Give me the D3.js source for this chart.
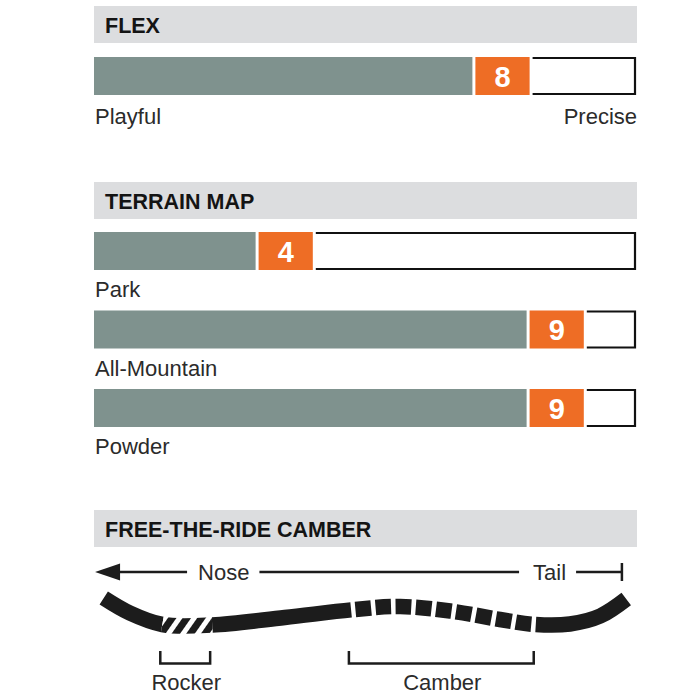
<head>
<meta charset="utf-8">
<style>
body { margin: 0; background: #fff; }
svg { display: block; font-family: "Liberation Sans", Arial, sans-serif; }
</style>
</head>
<body>
<div id="chart"></div>
<script src="https://cdn.jsdelivr.net/npm/d3@7"></script>
<script>
// rating data
var maxRating = 10;
var sectionTitles = ["FLEX", "TERRAIN MAP", "FREE-THE-RIDE CAMBER"];
var flexValue = 8;
var flexEnds = ["Playful", "Precise"];
var terrainNames = ["Park", "All-Mountain", "Powder"];
var terrainValues = [4, 9, 9];

// camber profile: position along board (0-100) and rise of the centre line
var boardPos  = [1.8, 6.6, 12.6, 21.8, 35.2, 48.2, 56.5, 65.7, 74.9, 81.4, 87.8, 93.4, 98.2];
var boardRise = [29, 14, 2.5, 2, 9.5, 17.5, 20.5, 16, 7.5, 2.5, 3, 11, 28];
var zoneNames = ["Rocker", "Camber"];
var zoneStart = [12.6, 47.4];
var zoneEnd   = [21.8, 81.5];
var camberDashes = 9;
var directionNames = ["Nose", "Tail"];
var directionPos = [19.2, 87.1];   // nose label start, tail label end
var arrowEnds = [0.2, 97.4];

(function() {
  "use strict";

  var W = 700, H = 700,
    left = 94, right = 637,
    barH = 38, headH = 37,
    fs = 22,
    grey = "#7f928e", orange = "#ee6d25", ink = "#1c1c1c", textCol = "#2b2b2b";

  var svg = d3.select("#chart").append("svg")
    .attr("width", W)
    .attr("height", H);

  var x = d3.scaleLinear().domain([0, maxRating]).range([left, 636]);

  function header(title, top) {
    svg.append("rect")
      .attr("x", left).attr("y", top)
      .attr("width", right - left).attr("height", headH)
      .attr("fill", "#dcdddf");
    svg.append("text")
      .attr("x", left + 11).attr("y", top + 26.5)
      .attr("font-size", 21.5).attr("font-weight", "bold")
      .attr("fill", "#141414")
      .text(title);
  }

  function ratingBar(value, top) {
    var g = svg.append("g");
    g.append("rect")
      .attr("x", x(0)).attr("y", top)
      .attr("width", x(value - 1) - 1 - x(0)).attr("height", barH)
      .attr("fill", grey);
    g.append("rect")
      .attr("x", x(value - 1) + 2).attr("y", top)
      .attr("width", x(value) - x(value - 1)).attr("height", barH)
      .attr("fill", orange);
    g.append("text")
      .attr("x", (x(value - 1) + x(value)) / 2 + 2).attr("y", top + 29.5)
      .attr("text-anchor", "middle")
      .attr("font-size", 29).attr("font-weight", "bold")
      .attr("fill", "#fff")
      .text(value);
    // open-left outline box for the rest of the scale
    var x0 = x(value) + 5, x1 = x(maxRating) - 1;
    g.append("path")
      .attr("d", "M" + x0 + "," + (top + 1) + "H" + x1 + "V" + (top + barH - 1) + "H" + x0)
      .attr("fill", "none")
      .attr("stroke", "#111")
      .attr("stroke-width", 2.2);
  }

  function label(txt, xx, yy, anchor) {
    return svg.append("text")
      .attr("x", xx).attr("y", yy)
      .attr("text-anchor", anchor || "start")
      .attr("font-size", fs)
      .attr("fill", textCol)
      .text(txt);
  }

  // FLEX
  header(sectionTitles[0], 6);
  ratingBar(flexValue, 57);
  label(flexEnds[0], left + 1, 124);
  label(flexEnds[1], right, 124, "end");

  // TERRAIN MAP
  header(sectionTitles[1], 182);
  var rowY = d3.scaleLinear().domain([0, 1]).range([232, 310.5]);
  terrainValues.forEach(function(v, i) {
    ratingBar(v, rowY(i));
    label(terrainNames[i], left + 1, rowY(i) + barH + 27);
  });

  // FREE-THE-RIDE CAMBER
  header(sectionTitles[2], 510);

  var bx = d3.scaleLinear().domain([0, 100]).range([left, 636]);
  var by = d3.scaleLinear().domain([0, 30]).range([627, 597]);

  // direction line
  var ay = 572;
  svg.append("path")
    .attr("d", "M" + bx(arrowEnds[0]) + "," + ay + "l25,-8.5v17z")
    .attr("fill", ink);
  var nose = label(directionNames[0], bx(directionPos[0]), ay + 8);
  var tail = label(directionNames[1], bx(directionPos[1]), ay + 8, "end");
  var noseEnd = bx(directionPos[0]) + nose.node().getComputedTextLength();
  var tailStart = bx(directionPos[1]) - tail.node().getComputedTextLength();
  var segs = [
    [bx(arrowEnds[0]) + 24, bx(directionPos[0]) - 11],
    [noseEnd + 10, tailStart - 14],
    [bx(directionPos[1]) + 10, bx(arrowEnds[1])]
  ];
  svg.selectAll(".dir").data(segs).enter().append("line")
    .attr("x1", function(d) { return d[0]; })
    .attr("x2", function(d) { return d[1]; })
    .attr("y1", ay).attr("y2", ay)
    .attr("stroke", ink).attr("stroke-width", 2.5);
  svg.append("line")
    .attr("x1", bx(arrowEnds[1])).attr("x2", bx(arrowEnds[1]))
    .attr("y1", ay - 9).attr("y2", ay + 9)
    .attr("stroke", ink).attr("stroke-width", 2.5);

  // board
  var defs = svg.append("defs");
  var pat = defs.append("pattern")
    .attr("id", "hatch")
    .attr("patternUnits", "userSpaceOnUse")
    .attr("width", 12).attr("height", 12)
    .attr("patternTransform", "rotate(35)");
  pat.append("rect").attr("width", 12).attr("height", 12).attr("fill", "#fff");
  pat.append("rect").attr("width", 7).attr("height", 12).attr("fill", ink);

  var pts = boardPos.map(function(p, i) { return [bx(p), by(boardRise[i])]; });
  var line = d3.line().curve(d3.curveCatmullRom.alpha(0.5));
  var dStr = line(pts);

  var probe = svg.append("path").attr("d", dStr).attr("fill", "none").attr("stroke", "none");
  var pn = probe.node(), total = pn.getTotalLength();
  function lenAt(px) {
    var lo = 0, hi = total;
    for (var k = 0; k < 40; k++) {
      var mid = (lo + hi) / 2;
      if (pn.getPointAtLength(mid).x < px) lo = mid; else hi = mid;
    }
    return (lo + hi) / 2;
  }
  var r0 = lenAt(bx(zoneStart[0])), r1 = lenAt(bx(zoneEnd[0])),
      c0 = lenAt(bx(zoneStart[1])), c1 = lenAt(bx(zoneEnd[1]));
  probe.remove();

  var bw = 15.5;
  function boardPiece(dash, stroke) {
    svg.append("path")
      .attr("d", dStr)
      .attr("fill", "none")
      .attr("stroke", stroke)
      .attr("stroke-width", bw)
      .attr("stroke-linecap", "butt")
      .attr("stroke-dasharray", dash.join(" "));
  }
  // solid parts
  boardPiece([r0, r1 - r0, c0 - r1, c1 - c0, total - c1 + 10, 0], ink);
  // rocker hatch
  boardPiece([0, r0, r1 - r0, total + 10], "url(#hatch)");
  // camber dashes
  var gap = 4.5, dl = ((c1 - c0) - gap * (camberDashes + 1)) / camberDashes;
  var camArr = [0, c0 + gap];
  for (var j = 0; j < camberDashes; j++) {
    camArr.push(dl, j < camberDashes - 1 ? gap : total + 10);
  }
  boardPiece(camArr, ink);

  // zone brackets
  zoneNames.forEach(function(name, i) {
    var xa = bx(zoneStart[i]) - 2, xb = bx(zoneEnd[i]) - 2;
    svg.append("path")
      .attr("d", "M" + xa + ",651V663.5H" + xb + "V651")
      .attr("fill", "none")
      .attr("stroke", ink)
      .attr("stroke-width", 2.5);
    label(name, (xa + xb) / 2 + 1, 690, "middle");
  });
})();
</script>
</body>
